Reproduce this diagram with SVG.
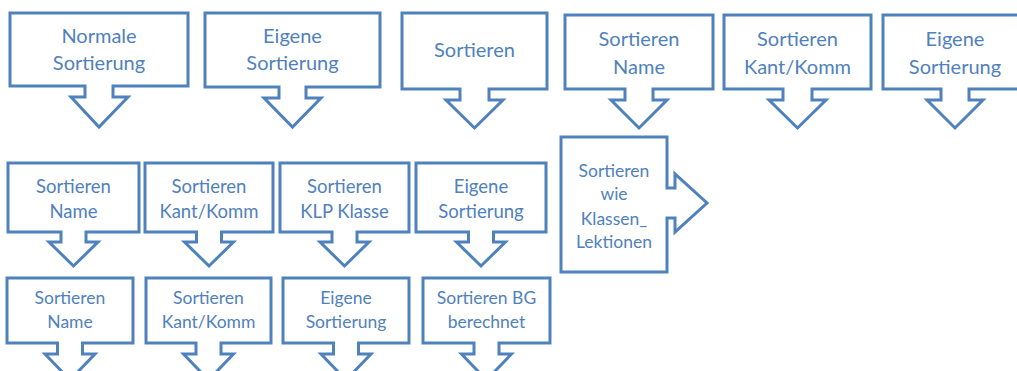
<svg xmlns="http://www.w3.org/2000/svg" width="1017" height="371" viewBox="0 0 1017 371">
<style>
.s{fill:#fff;stroke:#4f81bd;stroke-width:3;stroke-linejoin:miter}
.t{fill:#4f81bd;font-family:Lato,"Open Sans","Liberation Sans",sans-serif;text-anchor:middle}
.a{font-size:20px}
.b{font-size:18.5px}
.c{font-size:17.5px}
</style>
<rect width="1017" height="371" fill="#fff"/>
<g id="connectors"></g>
<g id="n1"><path class="s" d="M10 13H188V86H113V97H128L99 127L71 97H85V86H10Z"/><text class="t a" x="99" y="43">Normale</text><text class="t a" x="99" y="70">Sortierung</text></g>
<g id="n2"><path class="s" d="M205 13H380V87H306V98H321L292.5 127L264 98H279V87H205Z"/><text class="t a" x="292.5" y="43">Eigene</text><text class="t a" x="292.5" y="70">Sortierung</text></g>
<g id="n3"><path class="s" d="M402 13H547V89H489V100H503L474.5 128L446 100H460V89H402Z"/><text class="t a" x="474.5" y="57">Sortieren</text></g>
<g id="n4"><path class="s" d="M565 15H713V89H653V100H667L639 128L611 100H625V89H565Z"/><text class="t a" x="639" y="46">Sortieren</text><text class="t a" x="639" y="74">Name</text></g>
<g id="n5"><path class="s" d="M724 15H871V89H812V100H826L797.5 128L769 100H783V89H724Z"/><text class="t a" x="797.5" y="46">Sortieren</text><text class="t a" x="797.5" y="74">Kant/Komm</text></g>
<g id="n6"><path class="s" d="M883 15H1027V89H969V100H983L955 128L927 100H941V89H883Z"/><text class="t a" x="955" y="46">Eigene</text><text class="t a" x="955" y="74">Sortierung</text></g>
<g id="n7"><path class="s" d="M8 163H139V232H86V242H98L73.5 266L49 242H61V232H8Z"/><text class="t b" x="73.5" y="193">Sortieren</text><text class="t b" x="73.5" y="218">Name</text></g>
<g id="n8"><path class="s" d="M145 163H273V232H221.5V242H233.5L209 266L184.5 242H196.5V232H145Z"/><text class="t b" x="209" y="193">Sortieren</text><text class="t b" x="209" y="218">Kant/Komm</text></g>
<g id="n9"><path class="s" d="M280 163H409V232H357V242H369L344.5 266L320 242H332V232H280Z"/><text class="t b" x="344.5" y="193">Sortieren</text><text class="t b" x="344.5" y="218">KLP Klasse</text></g>
<g id="n10"><path class="s" d="M416 163H546V232H493.5V242H505.5L481 266L456.5 242H468.5V232H416Z"/><text class="t b" x="481" y="193">Eigene</text><text class="t b" x="481" y="218">Sortierung</text></g>
<g id="n11"><path class="s" d="M7 278H133V343H82.5V354H95L70 380L45 354H57.5V343H7Z"/><text class="t c" x="70" y="304">Sortieren</text><text class="t c" x="70" y="328">Name</text></g>
<g id="n12"><path class="s" d="M146 278H271V343H221V354H233.5L208.5 380L183.5 354H196V343H146Z"/><text class="t c" x="208.5" y="304">Sortieren</text><text class="t c" x="208.5" y="328">Kant/Komm</text></g>
<g id="n13"><path class="s" d="M283 278H409V343H358.5V354H371L346 380L321 354H333.5V343H283Z"/><text class="t c" x="346" y="304">Eigene</text><text class="t c" x="346" y="328">Sortierung</text></g>
<g id="n14"><path class="s" d="M423 278H550V343H499V354H511.5L486.5 380L461.5 354H474V343H423Z"/><text class="t c" x="486.5" y="304">Sortieren BG</text><text class="t c" x="486.5" y="328">berechnet</text></g>
<g id="n15"><path class="s" d="M561 137H667V188H675V174L707 203L675 232V218H667V272H561Z"/><text class="t c" x="614" y="177">Sortieren</text><text class="t c" x="614" y="200">wie</text><text class="t c" x="614" y="225">Klassen_</text><text class="t c" x="614" y="248">Lektionen</text></g>
</svg>
